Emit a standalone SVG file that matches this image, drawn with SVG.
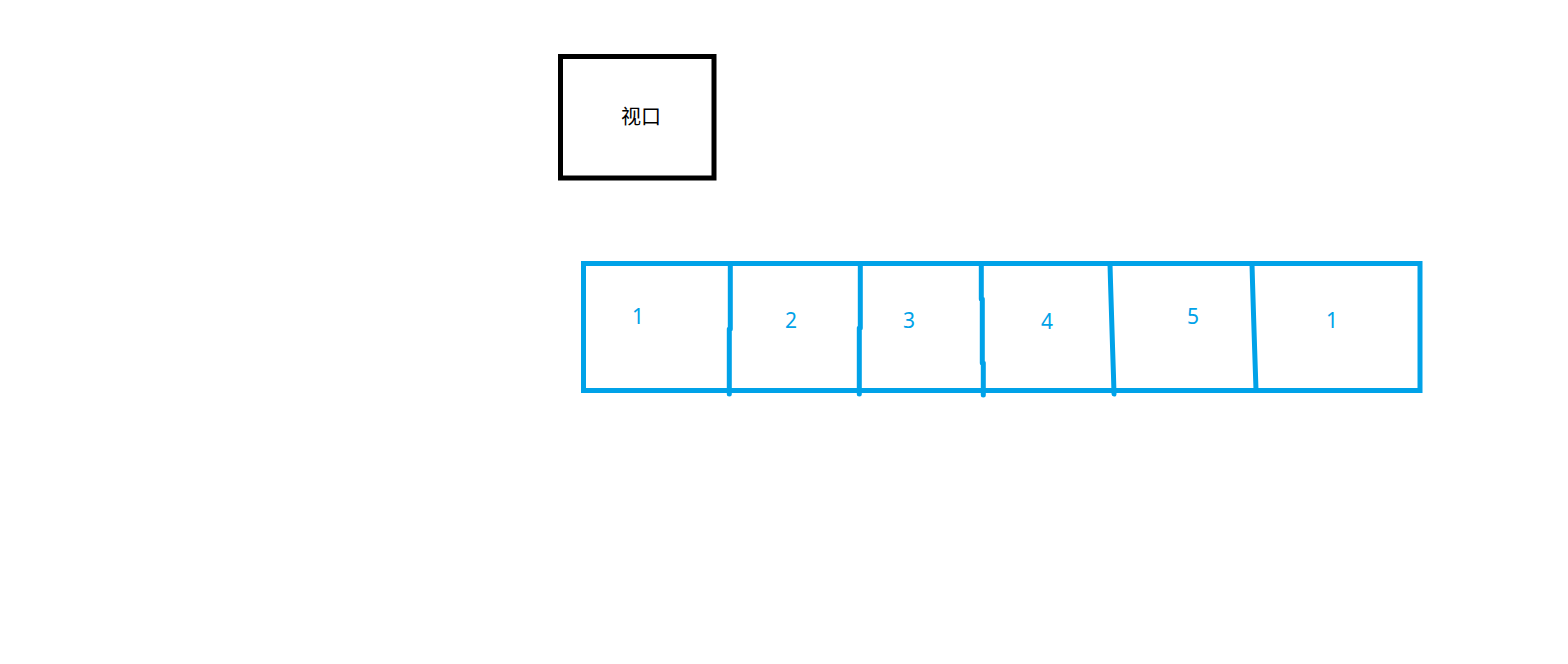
<svg xmlns="http://www.w3.org/2000/svg" width="1568" height="664" viewBox="0 0 1568 664">
<style>
.blk{fill:none;stroke:#000000;stroke-width:5}
.blu{fill:none;stroke:#00a2e8;stroke-width:5}
.div{fill:none;stroke:#00a2e8;stroke-width:5;stroke-linecap:round;stroke-linejoin:round}
.lbl{font-family:"Noto Sans CJK SC","Liberation Sans",sans-serif;font-size:20px;text-anchor:middle}
.num{font-family:"Noto Sans","Liberation Sans",sans-serif;font-size:21px;text-anchor:middle;fill:#00a2e8}
</style>
<rect width="1568" height="664" fill="#ffffff"/>
<g id="viewport">
<rect class="blk" x="560.5" y="56.5" width="153.5" height="121.5"/>
<text class="lbl" x="641" y="124" fill="#000000">视口</text>
</g>
<g id="strip">
<rect class="blu" x="583.5" y="263.5" width="836.5" height="127"/>
</g>
<g id="dividers">
<polyline class="div" points="730.3,264 730.3,329 729.3,329 729.3,394"/>
<polyline class="div" points="860.3,264 860.3,328 859.3,328 859.3,394"/>
<polyline class="div" points="981.3,264 981.3,299 982.3,299 982.3,363 983.3,363 983.3,395"/>
<polyline class="div" points="1110,264 1110.5,282 1111.5,314 1112.5,346 1113.5,376 1114,394"/>
<polyline class="div" points="1252,264 1252.5,282 1253.5,314 1254.5,345 1255.5,375 1256,390"/>
</g>
<g id="cell1"><text class="num" x="638" y="324">1</text></g>
<g id="cell2"><text class="num" x="791" y="328">2</text></g>
<g id="cell3"><text class="num" x="909" y="328">3</text></g>
<g id="cell4"><text class="num" x="1047" y="329">4</text></g>
<g id="cell5"><text class="num" x="1193" y="324">5</text></g>
<g id="cell6"><text class="num" x="1332" y="328">1</text></g>
</svg>
